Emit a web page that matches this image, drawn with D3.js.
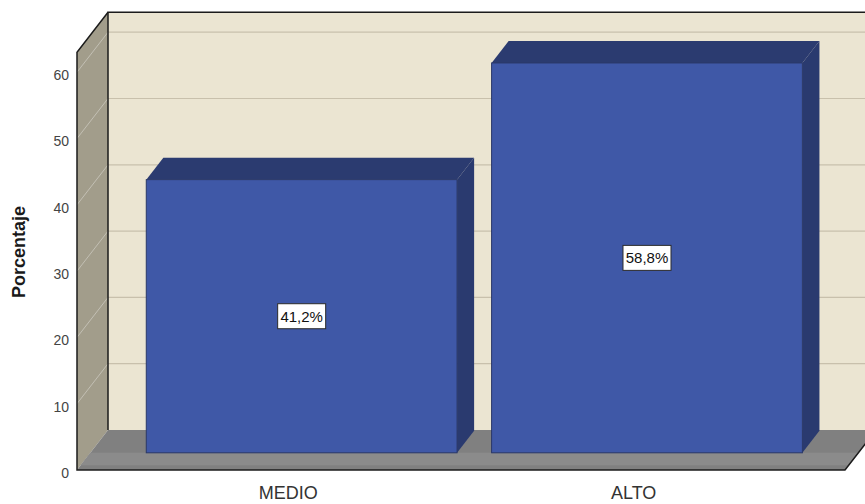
<!DOCTYPE html>
<html>
<head>
<meta charset="utf-8">
<script src="https://cdn.jsdelivr.net/npm/d3@7"></script>
<style>
  html, body { margin: 0; padding: 0; background: #ffffff; }
  svg { display: block; font-family: Arial, "Liberation Sans", sans-serif; }
</style>
</head>
<body>
<svg id="chart" width="865" height="504"></svg>
<script>
// Chart data
const categories = ["MEDIO", "ALTO"];
const values = [41.2, 58.8];
const yTicks = [0, 10, 20, 30, 40, 50, 60];
const yMax = 63;
const yTitle = "Porcentaje";

const W = 865, H = 504;
const svg = d3.select("#chart");

// Front plane scales
const x = d3.scaleBand()
  .domain(categories)
  .range([77, 845])
  .paddingInner(0.1)
  .paddingOuter(0.162);

const y = d3.scaleLinear()
  .domain([0, yMax])
  .range([470, 470 - yMax * 6.63]);

// Oblique depth vector of the chart box (front plane -> back wall)
const depth = { dx: 31, dy: -40 };
const proj = (px, v, t) => [px + t * depth.dx, y(v) + t * depth.dy];
const pts = arr => arr.map(p => p.join(",")).join(" ");

const xL = x.range()[0], xR = x.range()[1];

// Back wall
const bwTop = proj(xL, yMax, 1), bwBot = proj(xL, 0, 1);
svg.append("rect")
  .attr("x", bwTop[0]).attr("y", bwTop[1])
  .attr("width", W - bwTop[0] + 20).attr("height", bwBot[1] - bwTop[1])
  .attr("fill", "#ebe5d2");

// Gridlines on the back wall
svg.append("g").selectAll("line")
  .data(yTicks.filter(d => d > 0))
  .join("line")
  .attr("x1", d => proj(xL, d, 1)[0])
  .attr("x2", W + 20)
  .attr("y1", d => proj(xL, d, 1)[1])
  .attr("y2", d => proj(xL, d, 1)[1])
  .attr("stroke", "#c8c0ac")
  .attr("stroke-width", 1.2);

// Left side wall
svg.append("polygon")
  .attr("points", pts([proj(xL, 0, 0), proj(xL, yMax, 0), proj(xL, yMax, 1), proj(xL, 0, 1)]))
  .attr("fill", "#a29d8b");

// Faint tick guides across the side wall
svg.append("g").selectAll("line")
  .data(yTicks.filter(d => d > 0))
  .join("line")
  .attr("x1", d => proj(xL, d, 0)[0])
  .attr("y1", d => proj(xL, d, 0)[1])
  .attr("x2", d => proj(xL, d, 1)[0])
  .attr("y2", d => proj(xL, d, 1)[1])
  .attr("stroke", "rgba(255,255,255,0.35)")
  .attr("stroke-width", 1);

// Floor
svg.append("polygon")
  .attr("points", pts([proj(xL, 0, 0), proj(xR, 0, 0), proj(xR, 0, 1), proj(xL, 0, 1)]))
  .attr("fill", "#808080");
// lighter band along the front of the floor
svg.append("polygon")
  .attr("points", pts([proj(xL, 0, 0.12), proj(xR, 0, 0.12), proj(xR, 0, 0.43), proj(xL, 0, 0.43)]))
  .attr("fill", "#8b8b8b");

// Frame outlines
const frame = svg.append("g").attr("fill", "none").attr("stroke", "#1b1b1b").attr("stroke-width", 1.5);
frame.append("polyline")
  .attr("points", pts([proj(xL, 0, 1), proj(xL, yMax, 1), [W + 20, proj(xL, yMax, 1)[1]]]));
frame.append("polyline")
  .attr("points", pts([proj(xL, yMax, 1), proj(xL, yMax, 0), proj(xL, 0, 0), proj(xR, 0, 0), proj(xR, 0, 1)]));

// Bars (3D boxes)
const t0 = 0.43, t1 = 0.98;
const bw = x.bandwidth();
const bars = svg.append("g").selectAll("g")
  .data(categories.map((c, i) => ({ c, v: values[i] })))
  .join("g");

// right side face
bars.append("polygon")
  .attr("points", d => pts([
    proj(x(d.c) + bw, d.v, t0), proj(x(d.c) + bw, d.v, t1),
    proj(x(d.c) + bw, 0, t1), proj(x(d.c) + bw, 0, t0)]))
  .attr("fill", "#2a3a6f");
// top face
bars.append("polygon")
  .attr("points", d => pts([
    proj(x(d.c), d.v, t0), proj(x(d.c) + bw, d.v, t0),
    proj(x(d.c) + bw, d.v, t1), proj(x(d.c), d.v, t1)]))
  .attr("fill", "#2b3b70");
// front face
bars.append("rect")
  .attr("x", d => proj(x(d.c), d.v, t0)[0])
  .attr("y", d => proj(x(d.c), d.v, t0)[1])
  .attr("width", bw)
  .attr("height", d => proj(x(d.c), 0, t0)[1] - proj(x(d.c), d.v, t0)[1])
  .attr("fill", "#3f58a7")
  .attr("stroke", "#2a3868")
  .attr("stroke-width", 1);

// Value labels in the middle of each front face
const fmt = v => d3.format(".1f")(v).replace(".", ",") + "%";
const lab = bars.append("g")
  .attr("transform", d => {
    const p = proj(x(d.c) + bw / 2, d.v / 2, t0);
    return `translate(${p[0]},${p[1]})`;
  });
lab.append("rect")
  .attr("x", -24).attr("y", -12.5)
  .attr("width", 48).attr("height", 25)
  .attr("fill", "#ffffff")
  .attr("stroke", "#2b2b2b")
  .attr("stroke-width", 1);
lab.append("text")
  .attr("text-anchor", "middle")
  .attr("dy", "0.36em")
  .attr("font-size", 15)
  .attr("fill", "#111")
  .text(d => fmt(d.v));

// Y axis tick labels
const yAxis = d3.axisLeft(y).tickValues(yTicks).tickSize(0).tickPadding(8);
const gy = svg.append("g").attr("transform", `translate(${xL},3)`).call(yAxis);
gy.select(".domain").remove();
gy.selectAll("text")
  .attr("font-size", 14)
  .attr("font-family", "Arial, 'Liberation Sans', sans-serif")
  .attr("fill", "#444");

// Category labels
svg.append("g").selectAll("text")
  .data(categories)
  .join("text")
  .attr("x", d => x(d) + bw / 2)
  .attr("y", 499)
  .attr("text-anchor", "middle")
  .attr("font-size", 18)
  .attr("fill", "#333")
  .text(d => d);

// Y axis title
svg.append("text")
  .attr("transform", `translate(25,252) rotate(-90)`)
  .attr("text-anchor", "middle")
  .attr("font-size", 18)
  .attr("font-weight", "bold")
  .attr("fill", "#1a1a1a")
  .text(yTitle);
</script>
</body>
</html>
